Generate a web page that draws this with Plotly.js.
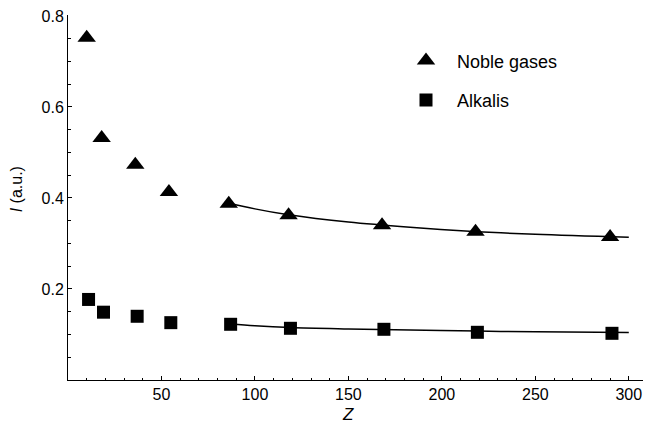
<!DOCTYPE html>
<html>
<head>
<meta charset="utf-8">
<script src="https://cdn.plot.ly/plotly-3.0.1.min.js"></script>
<style>
  html, body { margin: 0; padding: 0; background: #fff; }
  #chart { width: 645px; height: 429px; }
</style>
</head>
<body>
<div id="chart"></div>
<script>
// Measured intensities
const nobleZ = [10, 18, 36, 54, 86, 118, 168, 218, 290];
const nobleI = [0.752, 0.532, 0.473, 0.413, 0.387, 0.362, 0.340, 0.3255, 0.314];
const alkaliZ = [11, 19, 37, 55, 87, 119, 169, 219, 291];
const alkaliI = [0.177, 0.149, 0.140, 0.126, 0.1224, 0.1136, 0.1114, 0.1048, 0.1026];

// Fitted curves for the heavy elements
const nobleFitZ = [86, 100, 118, 150, 183, 219, 250, 300];
const nobleFitI = [0.389, 0.376, 0.363, 0.347, 0.3356, 0.326, 0.320, 0.3136];
const alkaliFitZ = [87, 100, 119, 150, 183, 219, 250, 300];
const alkaliFitI = [0.1231, 0.1191, 0.1152, 0.1121, 0.1097, 0.1075, 0.1059, 0.1042];

// Tick labels
const xTicks = [50, 100, 150, 200, 250, 300];
const yTicks = [0.2, 0.4, 0.6, 0.8];
const yTickText = ['0.2', '0.4', '0.6', '0.8'];

const FONT = 'Liberation Sans, Arial, Helvetica, sans-serif';

const traces = [
  {
    x: nobleFitZ, y: nobleFitI, mode: 'lines', showlegend: false, hoverinfo: 'skip',
    line: { color: '#000', width: 1.5, shape: 'spline', smoothing: 1 }
  },
  {
    x: alkaliFitZ, y: alkaliFitI, mode: 'lines', showlegend: false, hoverinfo: 'skip',
    line: { color: '#000', width: 1.5, shape: 'spline', smoothing: 1 }
  },
  {
    x: nobleZ, y: nobleI, mode: 'markers', name: 'Noble gases', legendgroup: 'a',
    marker: { symbol: 'triangle-up', size: 16, color: '#000' }
  },
  {
    x: alkaliZ, y: alkaliI, mode: 'markers', name: 'Alkalis', legendgroup: 'b',
    marker: { symbol: 'square', size: 13, color: '#000' }
  }
];

const axisCommon = {
  showline: true, linecolor: '#000', linewidth: 1,
  ticks: 'inside', ticklen: 4, tickwidth: 1, tickcolor: '#000',
  showgrid: false, zeroline: false,
  tickfont: { family: FONT, size: 16, color: '#000' }
};

const layout = {
  width: 645, height: 429,
  margin: { l: 68, r: 2, t: 15, b: 49 },
  paper_bgcolor: '#fff', plot_bgcolor: '#fff',
  font: { family: FONT, color: '#000' },
  xaxis: Object.assign({}, axisCommon, {
    range: [0, 307.6],
    tickvals: xTicks, ticktext: xTicks.map(String),
    minor: { tick0: 0, dtick: 10, ticks: 'inside', ticklen: 2.5, tickcolor: '#000', showgrid: false }
  }),
  yaxis: Object.assign({}, axisCommon, {
    range: [0, 0.802],
    tickvals: yTicks, ticktext: yTickText,
    minor: { tick0: 0, dtick: 0.05, ticks: 'inside', ticklen: 2.5, tickcolor: '#000', showgrid: false }
  }),
  legend: {
    x: 0.5687, y: 0.925, xanchor: 'left', yanchor: 'top',
    bgcolor: 'rgba(0,0,0,0)', borderwidth: 0,
    traceorder: 'grouped', tracegroupgap: 13,
    itemwidth: 52,
    font: { family: FONT, size: 18, color: '#000' }
  },
  annotations: [
    {
      text: '<i>Z</i>', xref: 'x', yref: 'paper', x: 150, y: 0, yshift: -34,
      xanchor: 'center', yanchor: 'middle', showarrow: false,
      font: { family: FONT, size: 17, color: '#000' }
    },
    {
      text: '<i>I</i> (a.u.)', xref: 'paper', yref: 'y', x: -0.0896, y: 0.42,
      xanchor: 'center', yanchor: 'middle', textangle: -90, showarrow: false,
      font: { family: FONT, size: 16, color: '#000' }
    }
  ]
};

Plotly.newPlot('chart', traces, layout, { staticPlot: true, displayModeBar: false });
</script>
</body>
</html>
